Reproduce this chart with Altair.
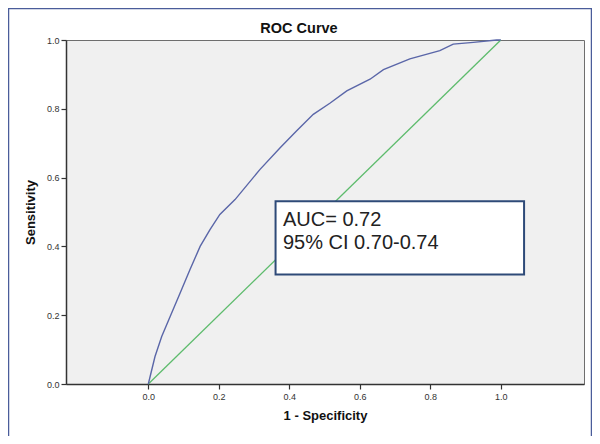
import altair as alt
import pandas as pd

# ROC curve
fpr = [0.0, 0.005, 0.019, 0.038, 0.062, 0.09, 0.118, 0.147, 0.175, 0.203, 0.246,
       0.317, 0.374, 0.421, 0.468, 0.515, 0.563, 0.629, 0.667, 0.742, 0.827,
       0.865, 0.922, 0.988, 1.0]
tpr = [0.0, 0.021, 0.08, 0.138, 0.196, 0.264, 0.332, 0.40, 0.449, 0.493, 0.536,
       0.624, 0.687, 0.736, 0.784, 0.816, 0.852, 0.886, 0.914, 0.945, 0.969,
       0.988, 0.993, 1.0, 1.0]
ref_x = [0.0, 1.0]
ref_y = [0.0, 1.0]
tick_values = [0.0, 0.2, 0.4, 0.6, 0.8, 1.0]
auc_lines = ["AUC= 0.72", "95% CI 0.70-0.74"]
box_x = [0.361, 1.066]
box_y = [0.318, 0.531]
text_x = [0.382, 0.382]
text_y = [0.4606, 0.392]
chart_title = ["ROC Curve"]

FONT = "Liberation Sans"

curve_df = pd.DataFrame({"fpr": fpr, "tpr": tpr})
ref_df = pd.DataFrame({"fpr": ref_x, "tpr": ref_y})
box_df = pd.DataFrame({"x1": [box_x[0]], "x2": [box_x[1]], "y1": [box_y[0]], "y2": [box_y[1]]})
text_df = pd.DataFrame({"x": text_x, "y": text_y, "t": auc_lines})
frame_df = pd.DataFrame({"a": [0]})
title_df = pd.DataFrame({"t": chart_title})

xscale = alt.Scale(domain=[-0.2335, 1.236], nice=False, zero=False)
yscale = alt.Scale(domain=[0, 1], nice=False, zero=False)

xaxis = alt.Axis(values=tick_values, format=".1f", title="1 - Specificity", grid=False)
yaxis = alt.Axis(values=tick_values, format=".1f", title="Sensitivity", grid=False)

frame = alt.Chart(frame_df).mark_rect(filled=False, stroke="#4a5c9a", strokeWidth=1.5).encode(
    x=alt.value(-57.5), x2=alt.value(525.5), y=alt.value(-31.5), y2=alt.value(430)
)

title_mark = alt.Chart(title_df).mark_text(
    align="center", baseline="alphabetic", fontSize=14.5, fontWeight="bold",
    font=FONT, color="#111111"
).encode(x=alt.value(233), y=alt.value(-7), text="t:N")

diag = alt.Chart(ref_df).mark_line(color="#5dbb6c", strokeWidth=1.3).encode(
    x=alt.X("fpr:Q", scale=xscale, axis=xaxis),
    y=alt.Y("tpr:Q", scale=yscale, axis=yaxis),
)

curve = alt.Chart(curve_df).mark_line(color="#5a66a8", strokeWidth=1.4).encode(
    x=alt.X("fpr:Q", scale=xscale, axis=xaxis),
    y=alt.Y("tpr:Q", scale=yscale, axis=yaxis),
)

box = alt.Chart(box_df).mark_rect(fill="white", stroke="#2e4a78", strokeWidth=2).encode(
    x=alt.X("x1:Q", scale=xscale), x2="x2:Q",
    y=alt.Y("y1:Q", scale=yscale), y2="y2:Q",
)

txt = alt.Chart(text_df).mark_text(
    align="left", baseline="alphabetic", fontSize=20, font=FONT, color="#222222"
).encode(
    x=alt.X("x:Q", scale=xscale), y=alt.Y("y:Q", scale=yscale), text="t:N"
)

chart = alt.layer(diag, curve, box, txt, frame, title_mark).properties(
    width=518,
    height=344,
    autosize=alt.AutoSizeParams(type="none"),
    padding={"left": 58, "top": 32, "right": 8, "bottom": 52},
).configure(
    background="white"
).configure_view(
    fill="#f0f0f0", stroke="#6e6e6e", strokeWidth=1
).configure_axis(
    grid=False,
    labelFont=FONT, labelFontSize=9, labelColor="#333333",
    tickColor="#333333", tickSize=5, tickWidth=1.2,
    domainColor="#333333", domainWidth=1.5,
    titleFont=FONT, titleFontSize=13, titleFontWeight="bold", titleColor="#111111",
).configure_axisX(
    labelPadding=3, titlePadding=8
).configure_axisY(
    labelPadding=2, titlePadding=9
)

chart.save("out.html", embed_options={"renderer": "svg", "actions": False})
